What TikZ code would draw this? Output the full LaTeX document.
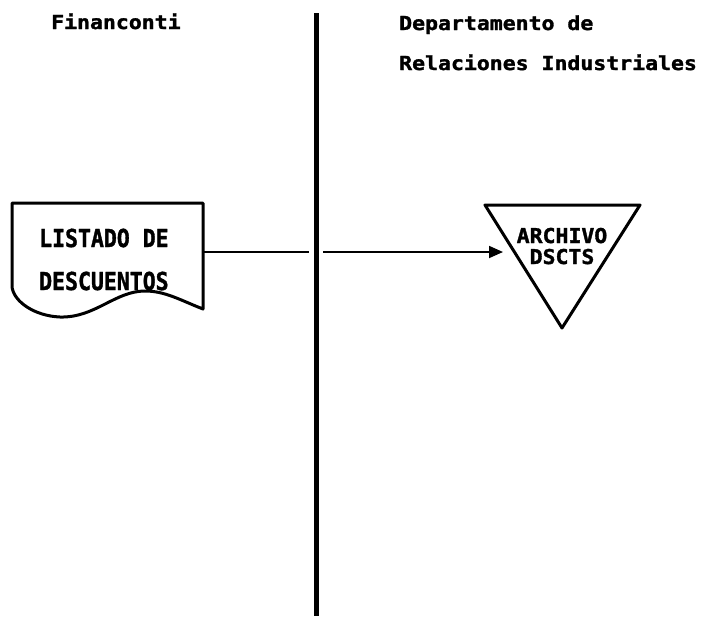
\documentclass[tikz,border=0pt]{standalone}
\usepackage{fontspec}
\newfontfamily\pixfont[BoldFeatures={FakeBold=1.5}]{DejaVu Sans Mono}
\usetikzlibrary{arrows.meta}
\begin{document}
\begin{tikzpicture}[x=1pt,y=-1pt,
  lbl/.style={inner sep=0pt, font=\pixfont\bfseries\fontsize{21.5}{24}\selectfont},
  shapeline/.style={line width=3pt, line join=round},
  flow/.style={line width=1.8pt, -{Triangle[length=14pt,width=12pt]}},
  lane/.style={line width=5pt, preaction={draw=white, line width=14pt}}]
\useasboundingbox[fill=white] (0,0) rectangle (701,616);

% titles
\node[lbl, anchor=base west] (fin) at (51,29) {\scalebox{1}[0.9]{Financonti}};
\node[lbl, anchor=base west] (dep1) at (399,30) {\scalebox{1}[0.9]{Departamento de}};
\node[lbl, anchor=base west] (dep2) at (399,70) {\scalebox{1}[0.9]{Relaciones Industriales}};

% document shape
\draw[shapeline] (12,203) -- (203,203) -- (203,309)
  .. controls (180,300) and (165,291) .. (145,291)
  .. controls (115,291) and (95,318) .. (60,317)
  .. controls (35,316) and (14,302) .. (12,287) -- cycle;
\coordinate (docE) at (203,252);
\node[lbl, anchor=base west] (doct1) at (39,247) {\scalebox{1}[1.15]{LISTADO DE}};
\node[lbl, anchor=base west] (doct2) at (39,290) {\scalebox{1}[1.15]{DESCUENTOS}};

% file triangle
\draw[shapeline] (485,205) -- (640,205) -- (562,328) -- cycle;
\coordinate (arcW) at (503,252);
\node[lbl, anchor=base] (arc1) at (562,243) {\scalebox{1}[0.95]{ARCHIVO}};
\node[lbl, anchor=base] (arc2) at (562,264) {\scalebox{1}[0.95]{DSCTS}};

% connector
\draw[flow] (docE) -- (arcW);

% lane divider
\coordinate (laneT) at (316,13);
\coordinate (laneB) at (316,616);
\draw[lane] (laneT) -- (laneB);
\end{tikzpicture}
\end{document}
